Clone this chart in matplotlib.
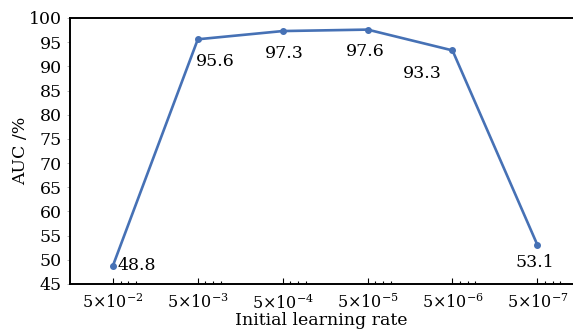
import numpy as np
import matplotlib
matplotlib.use("Agg")
import matplotlib.pyplot as plt

plt.rcParams['font.family'] = ['DejaVu Serif']
plt.rcParams['mathtext.fontset'] = 'dejavuserif'

lr_labels = [r'5$\times$10$^{-2}$', r'5$\times$10$^{-3}$', r'5$\times$10$^{-4}$',
             r'5$\times$10$^{-5}$', r'5$\times$10$^{-6}$', r'5$\times$10$^{-7}$']
auc = [48.8, 95.6, 97.3, 97.6, 93.3, 53.1]
# label offsets in points (dx, dy), horizontal alignment
label_offsets = [(3, 0, 'left'), (-1.5, -16, 'left'), (1.5, -16, 'center'),
                 (-2, -16, 'center'), (-22, -16.5, 'center'), (-2, -12.5, 'center')]

color = '#4671b5'
x = np.arange(len(auc))

fig = plt.figure(figsize=(5.73, 3.31), dpi=100)
ax = fig.add_axes([70/573, 47/331, 503/573, 266/331])

ax.plot(x, auc, '-o', color=color, lw=1.9, markersize=4)
for xi, v, (dx, dy, ha) in zip(x, auc, label_offsets):
    ax.annotate(f'{v}', (xi, v), xytext=(dx, dy), textcoords='offset points',
                ha=ha, va='center', fontsize=12.5)

ax.set_xlim(-0.506, 5.42)
ax.set_ylim(45, 100)
ax.set_yticks(np.arange(45, 101, 5))
ax.set_xticks(x)
ax.set_xticklabels(lr_labels)
minor = np.concatenate([x + 0.09, x + 0.18, x + 0.27])
ax.set_xticks(minor, minor=True)

ax.spines['right'].set_visible(False)
for s in ['left', 'bottom', 'top']:
    ax.spines[s].set_linewidth(1.4)

ax.tick_params(axis='x', which='major', direction='in', length=4, width=0.8, pad=7, labelsize=11.5)
ax.tick_params(axis='x', which='minor', direction='in', length=2.5, width=0.8)
ax.tick_params(axis='y', direction='out', length=2, width=0.5, pad=4, labelsize=12.5, color='#999999')
ax.tick_params(axis='y', labelcolor='black')

ax.set_ylabel('AUC /%', fontsize=12.5, labelpad=0)
ax.set_xlabel('Initial learning rate', fontsize=12.5, labelpad=-1)

fig.savefig('out.png', dpi=100)
